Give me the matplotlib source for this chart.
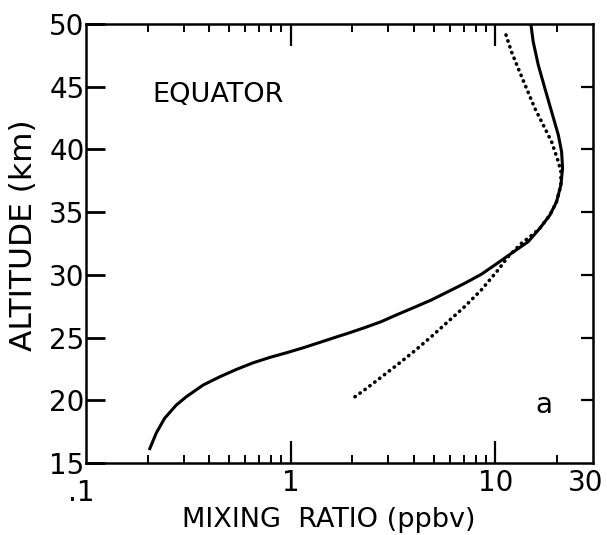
import matplotlib.pyplot as plt
from matplotlib.ticker import FixedLocator, NullFormatter
from matplotlib.transforms import offset_copy

# Solid profile: mixing ratio (ppbv) vs altitude (km)
solid_x = [0.2036, 0.2203, 0.242, 0.276, 0.309, 0.373, 0.450, 0.543, 0.656,
           0.792, 0.955, 1.154, 1.392, 1.681, 1.897, 2.288, 2.762, 3.334,
           4.02, 4.855, 5.86, 7.07, 8.53, 10.3, 12.43, 14.46, 16.49, 18.47,
           19.9, 20.9, 21.3, 21.06, 20.3, 18.82, 17.45, 16.2, 15.3, 14.9]
solid_alt = [16.03, 17.38, 18.56, 19.62, 20.28, 21.21, 21.87, 22.46, 22.99,
             23.42, 23.79, 24.19, 24.62, 25.06, 25.33, 25.78, 26.26, 26.85,
             27.41, 27.99, 28.65, 29.32, 30.04, 30.96, 31.9, 32.64, 33.71,
             34.77, 35.83, 37.16, 38.49, 39.82, 41.15, 43.01, 44.87, 46.73,
             48.59, 50.0]

# Dotted profile
dot_x = [2.06, 2.288, 2.762, 3.334, 4.02, 4.855, 5.86, 7.07, 8.53, 10.3,
         11.54, 13.4, 15.2, 16.49, 18.47, 19.9, 20.9, 20.9, 20.3, 18.82,
         17.13, 15.59, 14.19, 12.92, 11.98, 11.2]
dot_alt = [20.28, 20.81, 21.83, 22.86, 23.92, 25.06, 26.26, 27.46, 28.79,
           30.38, 31.44, 32.51, 33.2, 33.71, 34.77, 35.83, 37.16, 38.22,
           39.02, 40.61, 41.95, 43.28, 44.87, 46.47, 47.79, 49.26]

x_ticks = [0.1, 1, 10, 30]
x_ticklabels = ['.1', '1', '10', '30']
y_ticks = [15, 20, 25, 30, 35, 40, 45, 50]

fig = plt.figure(figsize=(6.07, 5.35), dpi=100)
ax = fig.add_axes([0.1417, 0.1346, 0.8353, 0.8206])

ax.plot(solid_x, solid_alt, color='black', lw=2.2,
        solid_joinstyle='round', solid_capstyle='butt')
ax.plot(dot_x, dot_alt, color='black', lw=2.6, linestyle=(0, (0.1, 1.6)),
        dash_capstyle='round')

ax.set_xscale('log')
ax.set_xlim(0.1, 30)
ax.set_ylim(15, 50)

for s in ax.spines.values():
    s.set_linewidth(1.8)

# x ticks: majors at 1 and 10, minors elsewhere, top and bottom, pointing in
ax.xaxis.set_major_locator(FixedLocator([1, 10]))
minor = [m * d for d in (0.1, 1) for m in range(2, 10)] + [20]
ax.xaxis.set_minor_locator(FixedLocator(minor))
ax.xaxis.set_minor_formatter(NullFormatter())
ax.tick_params(axis='x', which='major', direction='in', length=16, width=1.6,
               top=True, bottom=True, labelbottom=False)
ax.tick_params(axis='x', which='minor', direction='in', length=6, width=1.4,
               top=True, bottom=True)
xlab_tr = ax.get_xaxis_transform()
# end labels sit a little off their ticks, as in the original
nudge = {0.1: (-5, -16), 30: (-7, -6)}
for xv, lab in zip(x_ticks, x_ticklabels):
    dx, dy = nudge.get(xv, (0, -6))
    tr = offset_copy(xlab_tr, fig=fig, x=dx, y=dy, units='dots')
    ax.text(xv, 0, lab, transform=tr, ha='center', va='top', fontsize=20)

# y ticks: long inward ticks on the left, short ones on the right
ax.set_yticks(y_ticks)
ax.tick_params(axis='y', which='major', direction='in', length=14, width=2.0,
               labelsize=20, pad=1)
ax2 = ax.twinx()
ax2.set_ylim(15, 50)
ax2.set_yticks(y_ticks[1:-1])
ax2.tick_params(axis='y', direction='in', length=9, width=1.6, labelright=False)
for s in ax2.spines.values():
    s.set_visible(False)

fig.text(0.0395, 0.561, 'ALTITUDE (km)', rotation=90, fontsize=22.5,
         ha='center', va='center')
fig.text(0.541, 0.015, 'MIXING  RATIO (ppbv)', fontsize=19.5,
         ha='center', va='baseline')

ax.text(0.130, 0.822, 'EQUATOR', transform=ax.transAxes, fontsize=19.5,
        ha='left', va='baseline')
ax.text(17.2, 19.6, 'a', fontsize=20, ha='center', va='center')

fig.savefig('out.png', dpi=100)
